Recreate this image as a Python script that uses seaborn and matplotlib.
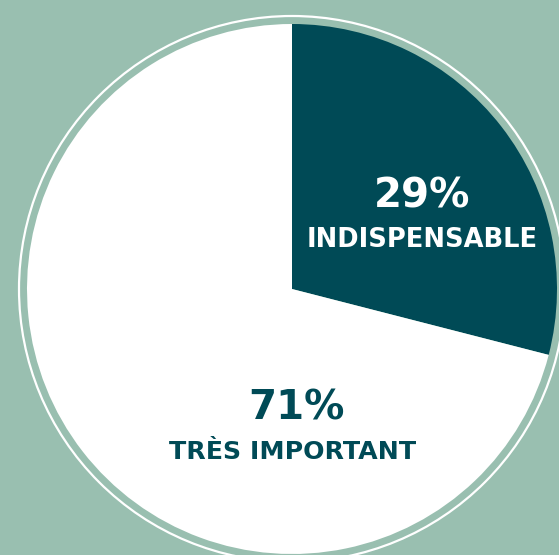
import matplotlib
matplotlib.use("Agg")
import matplotlib.pyplot as plt
import seaborn as sns

labels = ["INDISPENSABLE", "TRÈS IMPORTANT"]
values = [29, 71]
pcts = ["29%", "71%"]

bg = "#99bfb0"
dark = "#004a56"

sns.set_style("white")
plt.rcParams["font.family"] = ["DejaVu Sans"]

fig = plt.figure(figsize=(5.59, 5.55), dpi=100, facecolor=bg)
ax = fig.add_axes([0, 0, 1, 1])
ax.set_facecolor(bg)

cx, cy, r = 292, 555 - 289, 265

# outer thin ring
ring = plt.Circle((cx, cy), 273, fill=False, edgecolor="white", linewidth=1.6)
ax.add_patch(ring)

ax.pie(values, colors=[dark, "white"], startangle=90, counterclock=False,
       center=(cx, cy), radius=r, frame=True,
       wedgeprops={"linewidth": 0})
ax.set_xlim(0, 559)
ax.set_ylim(0, 555)
ax.set_aspect("equal")
ax.axis("off")

# labels
ax.text(422, 555 - 197, pcts[0], color="white", fontsize=29, fontweight="bold",
        ha="center", va="center")
ax.text(422, 555 - 240, labels[0], color="white", fontsize=18.5, fontweight="bold",
        ha="center", va="center")
ax.text(296, 555 - 408, pcts[1], color=dark, fontsize=29, fontweight="bold",
        ha="center", va="center")
ax.text(293, 555 - 452, labels[1], color=dark, fontsize=18.2, fontweight="bold",
        ha="center", va="center")

fig.savefig("out.png", dpi=100, facecolor=bg)
